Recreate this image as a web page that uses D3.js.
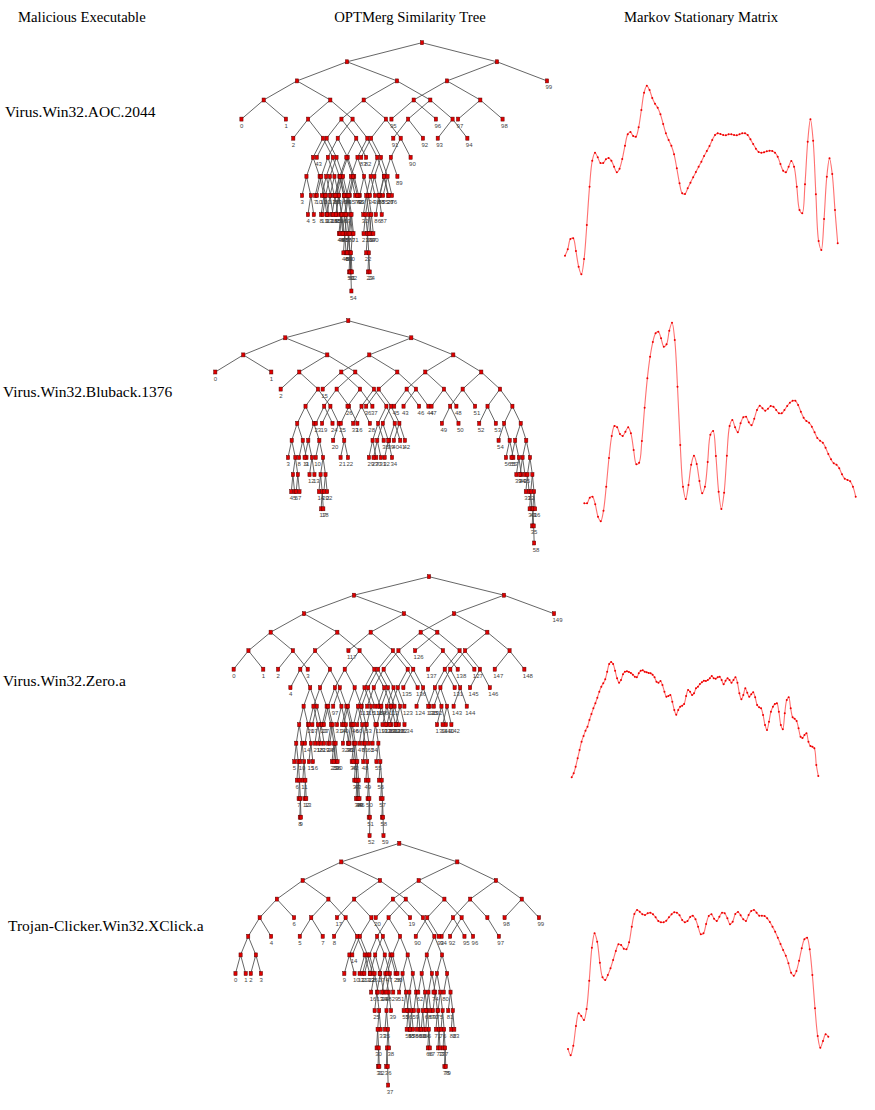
<!DOCTYPE html>
<html>
<head>
<meta charset="utf-8">
<script src="https://cdn.jsdelivr.net/npm/d3@7"></script>
<style>
  body { margin: 0; background: #fff; }
  svg { display: block; }
</style>
</head>
<body>
<div id="chart"></div>
<script>
// column headers and malware names
const headers = ['Malicious Executable', 'OPTMerg Similarity Tree', 'Markov Stationary Matrix'];
const samples = ['Virus.Win32.AOC.2044', 'Virus.Win32.Bluback.1376', 'Virus.Win32.Zero.a', 'Trojan-Clicker.Win32.XClick.a'];

// similarity trees: each leaf is "path label", L/R = left/right branch from the root
const tree1Leaves = [
  'RR 99', 'LLLL 0', 'LLLR 1', 'RLLL 95', 'RLLR 96', 'RLRL 97', 'RLRR 98',
  'LLRLL 2', 'LRRLL 91', 'LRRLR 92', 'LRRRL 93', 'LRRRR 94',
  'LRLRRR 90', 'LRLLLL 43', 'LRLRLL 83', 'LRLLRR 82',
  'LRLRRLR 89', 'LRLRRLLL 85', 'LRLRRLLR 27',
  'LRLRLRLL 34', 'LRLRLRLRL 86', 'LRLRLRLRR 87', 'LRLRLRRL 75', 'LRLRLRRR 76',
  'LLRRRRRL 88', 'LLRRRRRR 26', 'LLRRRRLR 38', 'LLRRRRLLL 32', 'LLRRRRLLRL 36', 'LLRRRRLLRR 37',
  'LLRRRLRL 33', 'LLRRRLRRLL 21', 'LLRRRLRRLRL 22', 'LLRRRLRRLRRL 23', 'LLRRRLRRLRRR 24', 'LLRRRLRRRL 30', 'LLRRRLRRRR 40',
  'LLRRLLLL 10', 'LLRRLLLRL 11', 'LLRRLLLRR 12', 'LLRRLLRLL 13', 'LLRRLLRLR 14', 'LLRRLLRRL 15', 'LLRRLLRRRL 44', 'LLRRLLRRRR 45',
  'LLRLRLLL 3', 'LLRLRLLRL 4', 'LLRLRLLRR 5', 'LLRLRLRL 7', 'LLRLRLRRL 8', 'LLRLRLRRR 9',
  'LLRLRRLL 16', 'LLRLRRLR 17', 'LLRLRRRLL 18', 'LLRLRRRLR 19', 'LLRLRRRRLL 46', 'LLRLRRRRLR 47',
  'LLRLRRRRRLL 48', 'LLRLRRRRRLR 49', 'LLRLRRRRRRL 50', 'LLRLRRRRRRRL 52', 'LLRLRRRRRRRRR 54',
  'LRLLLRLL 20', 'LRLLLRLR 28', 'LRLLLRRLL 55', 'LRLLLRRLR 56', 'LRLLLRRRLL 57', 'LRLLLRRRLR 58',
  'LRLLLRRRRLL 59', 'LRLLLRRRRLR 60', 'LRLLLRRRRRLL 61', 'LRLLLRRRRRLR 62',
  'LLRRLRLL 63', 'LLRRLRLR 64', 'LLRRLRRL 65', 'LLRRLRRR 66',
  'LRLLRLLL 67', 'LRLLRLLR 68', 'LRLLRLRLL 69', 'LRLLRLRLRL 70', 'LRLLRLRLRR 71', 'LRLLRLRR 72',
  'LLRRRLLL 73', 'LLRRRLLR 74'
];

const tree2Leaves = [
  'LLL 0', 'LLR 1', 'LRLL 2', 'RLLL 15', 'RLRLL 36', 'RLLRR 37', 'RRLLL 45', 'RLRRL 43', 'RRLLR 46',
  'RLRRR 44', 'RRLRL 47', 'RRLRR 48', 'RRRLR 51', 'RLLRL 26',
  'RRRLLL 49', 'RRRLLR 50', 'RRRRLL 52', 'RRRRLR 53',
  'LRRLLL 23', 'LRLRRL 19', 'LRRLLR 24', 'LRRLRL 25', 'LRRLRR 16',
  'LRRRLL 33', 'LRRRLR 28',
  'LRRRRLLL 29', 'LRRRRLLR 30', 'LRRRRLR 38', 'LRRRRRL 39', 'LRRRRRR 41',
  'RLRLRLLL 27', 'RLRLRLLR 31', 'RLRLRLRL 32', 'RLRLRLRR 34', 'RLRLRRL 40', 'RLRLRRR 42',
  'LRLRLLLL 3', 'LRLRLLLRLL 4', 'LRLRLLLRLR 5', 'LRLRLLLRRL 6', 'LRLRLLLRRR 7', 'LRLRLLRL 8', 'LRLRLLRR 9',
  'LRLRLRLL 11', 'LRLRLRLRL 12', 'LRLRLRLRR 13', 'LRLRLRRL 10', 'LRLRLRRRLL 14', 'LRLRLRRRLRL 17', 'LRLRLRRRLRR 18',
  'LRLRLRRRRL 20', 'LRLRLRRRRR 22',
  'LRLRRRL 20', 'LRLRRRRL 21', 'LRLRRRRR 22',
  'RRRRRLL 54', 'RRRRRLRL 56', 'RRRRRLRR 57', 'RRRRRRLL 55', 'RRRRRRLRL 39', 'RRRRRRLRR 40',
  'RRRRRRRLL 34', 'RRRRRRRLR 35', 'RRRRRRRRLL 31', 'RRRRRRRRLR 32',
  'RRRRRRRRRLL 30', 'RRRRRRRRRLR 41', 'RRRRRRRRRRLL 35', 'RRRRRRRRRRLRR 58', 'RRRRRRRRRRR 36'
];

const tree3Leaves = [
  'RR 149', 'LRLL 117', 'LRRL 126',
  'LLLLL 0', 'LLLLR 1', 'LLLRL 2', 'LLLRR 3', 'RLLRL 137', 'RLLRR 138', 'RLRRL 147', 'RLRRR 148',
  'LLRLLL 4', 'LRLRRR 136', 'RLLLRL 135', 'RLRLRL 145', 'RLRLRR 146', 'LRRRR 127',
  'LRRRLLL 130', 'LRRRLLRL 139', 'LRRRLLRR 140', 'LRRRLR 131',
  'RLRLLLL 132', 'RLRLLLRL 141', 'RLRLLLRR 142', 'RLRLLRL 143', 'RLRLLRR 144',
  'LLRLRRL 97', 'LLRRLRR 113', 'RLLLRRL 124', 'RLLLRRR 125', 'LRLRLLR 118',
  'LRLRLRLL 119', 'LRLRLRLR 120', 'LRLRLRRL 121', 'LRLRLRRR 122', 'LRLRRLLL 129', 'LRLRRLLR 128',
  'LRLRRLR 123', 'RLLLLRLL 131', 'RLLLLRLR 132', 'RLLLLRRL 133', 'RLLLLRRR 134',
  'RLLLLLL 115', 'RLLLLLR 116', 'LLRRRRL 114', 'LLRRRRR 112',
  'LLRLLRLLLL 5', 'LLRLLRLLLRL 6', 'LLRLLRLLLRRL 7', 'LLRLLRLLLRRRL 8', 'LLRLLRLLLRRRR 9',
  'LLRLLRLLRL 10', 'LLRLLRLLRRL 11', 'LLRLLRLLRRRL 12', 'LLRLLRLLRRRR 13',
  'LLRLLRLRL 14', 'LLRLLRLRRL 15', 'LLRLLRLRRR 16', 'LLRLLRRL 17', 'LLRLLRRRL 18', 'LLRLLRRRR 19',
  'LLRLRLLL 20', 'LLRLRLLRL 21', 'LLRLRLLRR 22', 'LLRLRLRL 23', 'LLRLRLRRL 24', 'LLRLRLRRRL 25', 'LLRLRLRRRR 26',
  'LLRRLLLL 27', 'LLRRLLLRL 28', 'LLRRLLLRRL 29', 'LLRRLLLRRR 30', 'LLRRLLRL 31', 'LLRRLLRRL 32', 'LLRRLLRRR 33',
  'LLRLRRRL 34', 'LLRLRRRRL 35', 'LLRLRRRRRL 36', 'LLRLRRRRRRL 37', 'LLRLRRRRRRRL 38', 'LLRLRRRRRRRR 39',
  'LLRRLRLL 40', 'LLRRLRLRL 41', 'LLRRLRLRRL 42', 'LLRRLRLRRRL 43', 'LLRRLRLRRRRL 44', 'LLRRLRLRRRRR 45',
  'LLRRRLLL 46', 'LLRRRLLRL 47', 'LLRRRLLRRL 48', 'LLRRRLLRRRL 49', 'LLRRRLLRRRRL 50', 'LLRRRLLRRRRRL 51', 'LLRRRLLRRRRRRL 52',
  'LLRRRLRL 53', 'LLRRRLRRL 54', 'LLRRRLRRRL 55', 'LLRRRLRRRRL 56', 'LLRRRLRRRRRL 57', 'LLRRRLRRRRRRL 58', 'LLRRRLRRRRRRRR 59',
  'LRLRLLLL 60', 'LRLRLLLRL 61', 'LRLRLLLRR 62'
];

const tree4Leaves = [
  'RRRL 98', 'RRRR 99', 'LLLR 6', 'LRLL 17', 'RLLL 20', 'RLLR 19',
  'LLLLR 4', 'LLRLL 5', 'LLRLR 7', 'LLRRL 8', 'RLRLL 90', 'RLRLR 93', 'RLRRL 92', 'RLRRR 96',
  'RRLLL 94', 'RRLLR 95', 'RRLRR 97', 'LRLRLL 14',
  'LLLLLLL 0', 'LLLLLLR 1', 'LLLLLRL 2', 'LLLLLRR 3',
  'LLRRRLL 9', 'LLRRRLR 10', 'LLRRRRL 11', 'LLRRRRR 12', 'LRLRLRL 21', 'LRLRLRR 26',
  'LRLRRLL 22', 'LRLRRLRLL 25', 'LRLRRLRLRLL 30', 'LRLRRLRLRLRL 31', 'LRLRRLRLRLRR 32', 'LRLRRLRLRR 33', 'LRLRRLRR 24',
  'LRLRRRLL 34', 'LRLRRRLRLL 35', 'LRLRRRLRLRLL 36', 'LRLRRRLRLRLRR 37', 'LRLRRRLRLRR 38', 'LRLRRRLRR 39', 'LRLRRRR 28',
  'LRRLLLL 23', 'LRRLLLRL 16', 'LRRLLLRR 13', 'LRRLLRL 27', 'LRRLLRRL 18', 'LRRLLRRR 29',
  'LRRLRLL 47', 'LRRLRLR 50', 'LRRLRRLL 51', 'LRRLRRLRL 53', 'LRRLRRLRRL 54', 'LRRLRRLRRR 55',
  'LRRLRRRLL 56', 'LRRLRRRLRL 57', 'LRRLRRRLRR 58', 'LRRLRRRRL 59', 'LRRLRRRRRL 60', 'LRRLRRRRRR 61',
  'LRRRRLLL 62', 'LRRRRLLRLL 63', 'LRRRRLLRLR 64', 'LRRRRLLRRL 65', 'LRRRRLLRRRL 66', 'LRRRRLLRRRR 67',
  'LRRRRLRLL 68', 'LRRRRLRLR 69', 'LRRRRLRRL 70', 'LRRRRLRRRL 71', 'LRRRRLRRRRL 72', 'LRRRRLRRRRR 73',
  'LRRRRRLL 74', 'LRRRRRLRL 75', 'LRRRRRLRRL 76', 'LRRRRRLRRRL 77', 'LRRRRRLRRRRL 78', 'LRRRRRLRRRRR 79',
  'LRRRRRRL 80', 'LRRRRRRRL 81', 'LRRRRRRRRL 82', 'LRRRRRRRRR 83'
];

// stationary distributions (relative values)
const markov1 = [93,112,143,145,107,60,37,83,185,300,378,402,388,371,371,382,386,378,360,343,354,383,423,457,464,452,450,478,530,582,603,590,566,549,537,517,488,460,440,423,397,355,310,280,278,295,312,328,344,360,375,392,407,422,440,455,460,458,455,454,457,457,455,454,457,460,460,455,442,428,414,404,402,403,406,408,407,402,390,368,348,343,360,377,360,300,230,220,307,435,502,438,277,137,110,203,330,385,338,230,130];
const markov2 = [70,70,87,90,67,30,16,48,120,206,272,302,298,278,272,285,298,280,230,187,192,257,357,445,510,554,580,585,565,540,547,588,612,560,420,245,120,83,125,186,213,188,137,100,120,194,276,287,212,105,53,102,213,302,320,298,283,310,328,330,313,304,324,350,363,355,348,354,362,360,350,340,340,350,362,372,378,378,365,345,327,317,312,300,283,266,258,252,237,218,202,190,186,175,157,144,140,136,120,90];
const markov3 = [38,50,70,95,120,145,162,178,190,210,228,245,260,277,295,310,320,332,355,378,384,378,358,335,322,330,347,355,356,354,351,346,340,338,350,358,359,355,353,351,350,346,338,325,322,327,315,295,280,282,285,265,240,226,240,250,253,258,282,300,295,285,290,305,310,318,323,328,327,330,335,342,335,334,338,340,330,317,328,335,330,322,330,338,322,290,272,285,305,292,280,287,293,278,255,248,245,225,195,180,205,235,250,258,260,235,195,182,230,270,278,245,218,214,207,185,160,156,165,170,145,132,130,125,75,42];
const markov4 = [73,54,83,142,180,172,160,193,278,377,420,395,332,288,280,295,315,340,367,387,385,374,372,393,440,478,490,485,477,475,480,482,477,468,457,453,453,458,468,477,483,482,474,460,453,457,469,473,462,440,417,420,448,472,477,464,457,470,482,480,465,447,455,478,484,474,462,457,475,487,490,482,473,473,472,465,454,440,425,407,388,370,353,330,302,293,307,338,375,402,407,372,295,195,112,77,97,117,110];

const W = 875, H = 1110;
const svg = d3.select('#chart').append('svg')
  .attr('width', W).attr('height', H)
  .attr('viewBox', [0, 0, W, H]);
svg.append('rect').attr('width', W).attr('height', H).attr('fill', '#fff');

const serif = '"Liberation Serif", "Times New Roman", serif';

// header row
const headerX = [18, 410, 701];
svg.selectAll('text.hdr')
  .data(headers)
  .join('text')
  .attr('class', 'hdr')
  .attr('x', (d, i) => headerX[i])
  .attr('y', 22)
  .attr('text-anchor', (d, i) => i === 0 ? 'start' : 'middle')
  .attr('font-family', serif)
  .attr('font-size', 14.7)
  .attr('fill', '#000')
  .text(d => d);

// panel frames for each row: label, tree, curve
const rows = [
  { label: [5, 117], tree: { rx: 422, ry: 42.7, off: 75, step: 19.1 }, curve: { x: [565, 837.7], y: [274.3, 85.7] } },
  { label: [3, 397], tree: { rx: 348.3, ry: 320.7, off: 63, step: 17.1 }, curve: { x: [584.3, 855.7], y: [521.3, 322.7] } },
  { label: [3, 686], tree: { rx: 429, ry: 576.7, off: 75, step: 18.5 }, curve: { x: [571.7, 818.3], y: [777.3, 662] } },
  { label: [8, 931], tree: { rx: 399.3, ry: 843.3, off: 58, step: 18.6 }, curve: { x: [568, 828.3], y: [1055.3, 910] } }
];
const treeData = [tree1Leaves, tree2Leaves, tree3Leaves, tree4Leaves];
const markovData = [markov1, markov2, markov3, markov4];

function buildTree(leaves) {
  const labels = new Map();
  const ids = new Set(['']);
  leaves.forEach(s => {
    const [p, lab] = s.split(' ');
    labels.set(p, lab);
    for (let i = 1; i <= p.length; i++) ids.add(p.slice(0, i));
  });
  const table = Array.from(ids).map(id => ({
    id: 'n' + id,
    parentId: id === '' ? null : 'n' + id.slice(0, -1),
    path: id,
    label: labels.get(id)
  }));
  const root = d3.stratify()(table);
  // sideways offset shrinks by 2/3 at every level
  root.each(d => {
    let u = 0;
    for (let i = 0; i < d.data.path.length; i++) {
      u += (d.data.path[i] === 'L' ? -1 : 1) * Math.pow(2 / 3, i);
    }
    d.u = u;
  });
  return root;
}

rows.forEach((row, r) => {
  // name of the sample
  svg.append('text')
    .attr('x', row.label[0]).attr('y', row.label[1])
    .attr('font-family', serif)
    .attr('font-size', 15.5)
    .attr('fill', '#000')
    .text(samples[r]);

  // tree
  const root = buildTree(treeData[r]);
  const x = d3.scaleLinear().domain([0, 1]).range([row.tree.rx, row.tree.rx + row.tree.off]);
  const y = d3.scaleLinear().domain([0, 1]).range([row.tree.ry, row.tree.ry + row.tree.step]);
  const g = svg.append('g');

  g.append('g')
    .attr('stroke', '#555')
    .attr('stroke-width', 0.9)
    .attr('fill', 'none')
    .selectAll('line')
    .data(root.links())
    .join('line')
    .attr('x1', d => x(d.source.u))
    .attr('y1', d => y(d.source.depth))
    .attr('x2', d => x(d.target.u))
    .attr('y2', d => y(d.target.depth));

  g.append('g')
    .selectAll('rect')
    .data(root.descendants())
    .join('rect')
    .attr('x', d => x(d.u) - 1.6)
    .attr('y', d => y(d.depth) - 2)
    .attr('width', 3.2)
    .attr('height', 4)
    .attr('fill', '#e00000')
    .attr('stroke', '#5a0000')
    .attr('stroke-width', 0.5);

  g.append('g')
    .attr('font-family', '"Liberation Sans Narrow", "Liberation Sans", Arial, sans-serif')
    .attr('font-size', 6)
    .attr('fill', '#444')
    .selectAll('text')
    .data(root.leaves().filter(d => d.data.label !== undefined))
    .join('text')
    .attr('x', d => x(d.u) - 1.5)
    .attr('y', d => y(d.depth) + 8.5)
    .text(d => d.data.label);

  // markov curve
  const vals = markovData[r];
  const cx = d3.scaleLinear().domain([0, vals.length - 1]).range(row.curve.x);
  const cy = d3.scaleLinear().domain(d3.extent(vals)).range(row.curve.y);
  const line = d3.line().x((d, i) => cx(i)).y(d => cy(d)).curve(d3.curveCatmullRom.alpha(0.5));
  svg.append('path')
    .datum(vals)
    .attr('d', line)
    .attr('fill', 'none')
    .attr('stroke', '#ff4040')
    .attr('stroke-opacity', 0.75)
    .attr('stroke-width', 1.1);
  svg.append('g')
    .attr('fill', '#ee0000')
    .selectAll('circle')
    .data(vals)
    .join('circle')
    .attr('cx', (d, i) => cx(i))
    .attr('cy', d => cy(d))
    .attr('r', 1);
});
</script>
</body>
</html>
